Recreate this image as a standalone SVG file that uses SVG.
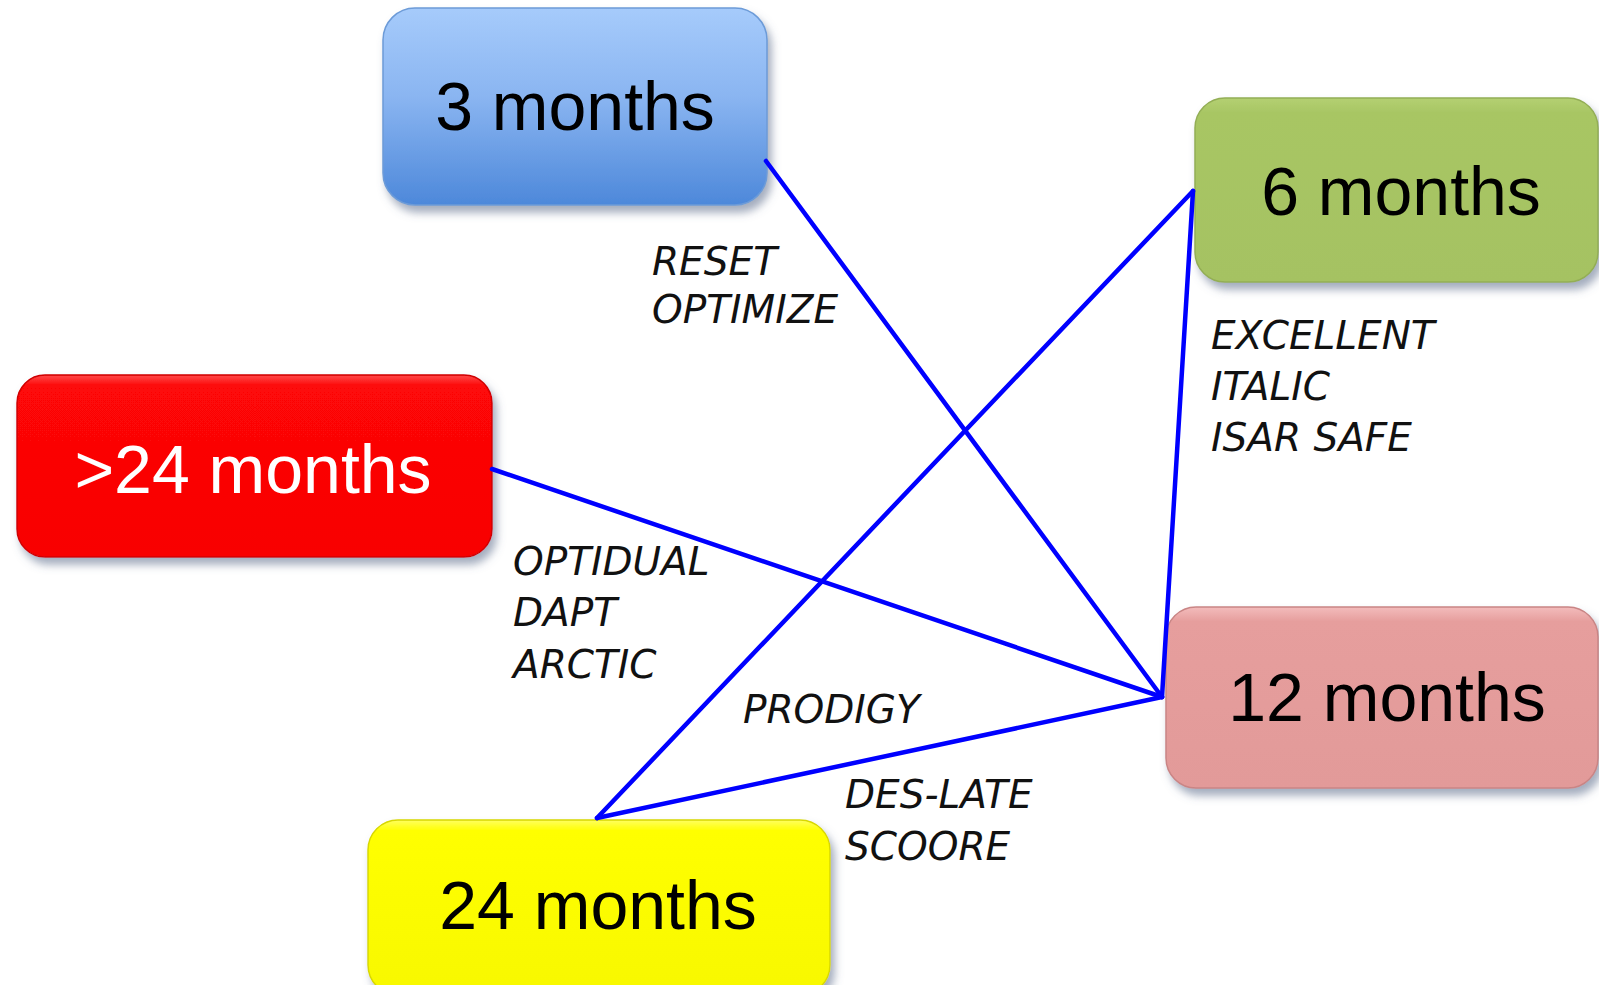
<svg xmlns="http://www.w3.org/2000/svg" width="1599" height="985" viewBox="0 0 1599 985">
  <style>
    .node-text { font-family: "Liberation Sans", Arial, sans-serif; font-size: 68px; text-anchor: middle; fill: #000; }
    .lbl { font-family: "DejaVu Sans", Verdana, sans-serif; font-style: italic; font-size: 39px; fill: #111; }
    .conn { stroke: #0000ff; stroke-width: 4.5; fill: none; stroke-linecap: round; stroke-linejoin: round; }
  </style>
  <defs>
    <filter id="shadow" x="-10%" y="-10%" width="130%" height="140%">
      <feDropShadow dx="4" dy="7" stdDeviation="4" flood-color="#5a6a88" flood-opacity="0.55"/>
    </filter>
    <linearGradient id="gBlue" x1="0" y1="0" x2="0" y2="1">
      <stop offset="0" stop-color="#a6cbfb"/>
      <stop offset="0.45" stop-color="#8ab5f1"/>
      <stop offset="1" stop-color="#4d88da"/>
    </linearGradient>
    <linearGradient id="gGreen" x1="0" y1="0" x2="0" y2="1">
      <stop offset="0" stop-color="#b4d072"/>
      <stop offset="0.08" stop-color="#a8c664"/>
      <stop offset="1" stop-color="#a5c262"/>
    </linearGradient>
    <linearGradient id="gRed" x1="0" y1="0" x2="0" y2="1">
      <stop offset="0" stop-color="#ff4a4a"/>
      <stop offset="0.06" stop-color="#fd0707"/>
      <stop offset="1" stop-color="#f80404"/>
    </linearGradient>
    <linearGradient id="gPink" x1="0" y1="0" x2="0" y2="1">
      <stop offset="0" stop-color="#f3bcbc"/>
      <stop offset="0.08" stop-color="#e69e9d"/>
      <stop offset="1" stop-color="#e29a99"/>
    </linearGradient>
    <linearGradient id="gYellow" x1="0" y1="0" x2="0" y2="1">
      <stop offset="0" stop-color="#ffff60"/>
      <stop offset="0.06" stop-color="#ffff00"/>
      <stop offset="1" stop-color="#f8f800"/>
    </linearGradient>
  </defs>

  <rect x="0" y="0" width="1599" height="985" fill="#ffffff"/>

  <g id="node-3m">
    <rect x="383" y="8" width="384" height="197" rx="32" fill="url(#gBlue)" stroke="#6c9bd8" stroke-width="1.5" filter="url(#shadow)"/>
    <text class="node-text" x="575" y="130">3 months</text>
  </g>

  <g id="node-6m">
    <rect x="1195" y="98" width="403" height="184" rx="30" fill="url(#gGreen)" stroke="#93ae55" stroke-width="1.5" filter="url(#shadow)"/>
    <text class="node-text" x="1401" y="215">6 months</text>
  </g>

  <g id="node-gt24m">
    <rect x="17" y="375" width="475" height="182" rx="28" fill="url(#gRed)" stroke="#d00000" stroke-width="1.5" filter="url(#shadow)"/>
    <text class="node-text" x="253" y="493" style="fill:#ffffff">&gt;24 months</text>
  </g>

  <g id="node-12m">
    <rect x="1166" y="607" width="432" height="181" rx="30" fill="url(#gPink)" stroke="#c98585" stroke-width="1.5" filter="url(#shadow)"/>
    <text class="node-text" x="1387" y="721">12 months</text>
  </g>

  <g id="node-24m">
    <rect x="368" y="820" width="462" height="175" rx="30" fill="url(#gYellow)" stroke="#d8d800" stroke-width="1.5" filter="url(#shadow)"/>
    <text class="node-text" x="598" y="929">24 months</text>
  </g>

  <g id="connectors">
    <line class="conn" x1="766" y1="161" x2="1162" y2="697"/>
    <line class="conn" x1="1193" y1="191" x2="597" y2="818"/>
    <line class="conn" x1="1193" y1="191" x2="1162" y2="697"/>
    <line class="conn" x1="492" y1="469" x2="1162" y2="697"/>
    <line class="conn" x1="597" y1="818" x2="1162" y2="697"/>
  </g>

  <g id="labels">
    <text class="lbl" x="652" y="275">RESET</text>
    <text class="lbl" x="652" y="323">OPTIMIZE</text>
    <text class="lbl" x="1211" y="349">EXCELLENT</text>
    <text class="lbl" x="1211" y="400">ITALIC</text>
    <text class="lbl" x="1211" y="451">ISAR SAFE</text>
    <text class="lbl" x="513" y="575">OPTIDUAL</text>
    <text class="lbl" x="513" y="626">DAPT</text>
    <text class="lbl" x="513" y="678">ARCTIC</text>
    <text class="lbl" x="743" y="723">PRODIGY</text>
    <text class="lbl" x="845" y="808">DES-LATE</text>
    <text class="lbl" x="845" y="860">SCOORE</text>
  </g>
</svg>
